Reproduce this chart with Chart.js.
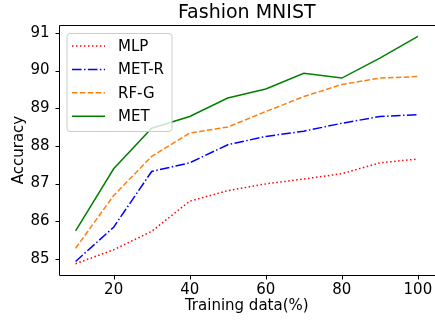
<!DOCTYPE html>
<html>
<head>
<meta charset="utf-8">
<script src="https://cdn.jsdelivr.net/npm/chart.js@4"></script>
<style>
  html, body { margin: 0; padding: 0; background: #fff; overflow: hidden; }
  #wrap { width: 435px; height: 320px; }
</style>
</head>
<body>
<div id="wrap"><canvas id="c" width="435" height="320"></canvas></div>
<script>
const trainingData = [10, 20, 30, 40, 50, 60, 70, 80, 90, 100];
const mlp  = [84.87, 85.24, 85.73, 86.53, 86.81, 86.99, 87.12, 87.26, 87.55, 87.65];
const metR = [84.93, 85.84, 87.32, 87.55, 88.03, 88.25, 88.39, 88.60, 88.78, 88.83];
const rfG  = [85.28, 86.68, 87.72, 88.34, 88.50, 88.91, 89.31, 89.63, 89.80, 89.84];
const met  = [85.74, 87.39, 88.47, 88.78, 89.27, 89.51, 89.93, 89.80, 90.33, 90.91];
const xTicks = [20, 40, 60, 80, 100];
const yTicks = [85, 86, 87, 88, 89, 90, 91];
const chartTitle = 'Fashion MNIST';

const FONT = "'DejaVu Sans', sans-serif";
Chart.defaults.font.family = FONT;
Chart.defaults.color = '#000';

function pts(ys) { return trainingData.map((x, i) => ({ x: x, y: ys[i] })); }

const series = [
  { label: 'MLP',   data: mlp,  color: '#ff0000', dash: [1.5, 2.5] },
  { label: 'MET-R', data: metR, color: '#0000ff', dash: [9.6, 2.4, 1.5, 2.4] },
  { label: 'RF-G',  data: rfG,  color: '#ff7f0e', dash: [5.5, 2.4] },
  { label: 'MET',   data: met,  color: '#008000', dash: [] }
];

const framePlugin = {
  id: 'frame',
  afterDraw(chart) {
    const { ctx, chartArea: a } = chart;
    const xs = chart.scales.x, ys = chart.scales.y;
    ctx.save();
    ctx.strokeStyle = '#000';
    ctx.lineWidth = 1;
    ctx.setLineDash([]);
    const L = Math.round(a.left) + 0.5, T = Math.round(a.top) + 0.5;
    const R = Math.round(a.right) + 0.5, B = Math.round(a.bottom) + 0.5;
    ctx.beginPath();
    ctx.moveTo(R, T);
    ctx.lineTo(L, T);
    ctx.lineTo(L, B);
    ctx.lineTo(R, B);
    // tick marks
    xTicks.forEach(v => {
      const px = Math.round(xs.getPixelForValue(v)) + 0.5;
      ctx.moveTo(px, B);
      ctx.lineTo(px, B + 4);
    });
    yTicks.forEach(v => {
      const py = Math.round(ys.getPixelForValue(v)) + 0.5;
      ctx.moveTo(L, py);
      ctx.lineTo(L - 4, py);
    });
    ctx.stroke();
    ctx.fillStyle = '#000';
    ctx.font = "19px " + FONT;
    ctx.textAlign = 'center';
    ctx.textBaseline = 'middle';
    ctx.fillText(chartTitle, (a.left + a.right) / 2, 13);
    ctx.restore();
  },
  afterDatasetsDraw(chart) {
    const { ctx, chartArea: a } = chart;
    const bx = a.left + 8.5, by = a.top + 8.5, bw = 105, bh = 98, r = 3;
    ctx.save();
    ctx.beginPath();
    ctx.moveTo(bx + r, by);
    ctx.lineTo(bx + bw - r, by);
    ctx.arcTo(bx + bw, by, bx + bw, by + r, r);
    ctx.lineTo(bx + bw, by + bh - r);
    ctx.arcTo(bx + bw, by + bh, bx + bw - r, by + bh, r);
    ctx.lineTo(bx + r, by + bh);
    ctx.arcTo(bx, by + bh, bx, by + bh - r, r);
    ctx.lineTo(bx, by + r);
    ctx.arcTo(bx, by, bx + r, by, r);
    ctx.closePath();
    ctx.fillStyle = 'rgba(255,255,255,0.8)';
    ctx.fill();
    ctx.strokeStyle = '#cccccc';
    ctx.lineWidth = 1;
    ctx.stroke();
    chart.data.datasets.forEach((ds, i) => {
      const y = by + 12.5 + i * 23.4;
      ctx.beginPath();
      ctx.setLineDash(ds.borderDash || []);
      ctx.strokeStyle = ds.borderColor;
      ctx.lineWidth = ds.borderWidth;
      ctx.moveTo(bx + 5, y);
      ctx.lineTo(bx + 38, y);
      ctx.stroke();
      ctx.setLineDash([]);
      ctx.fillStyle = '#000';
      ctx.font = "15px " + FONT;
      ctx.textAlign = 'left';
      ctx.textBaseline = 'middle';
      ctx.fillText(ds.label, bx + 51, y + 1);
    });
    ctx.restore();
  }
};

new Chart(document.getElementById('c'), {
  type: 'line',
  data: {
    datasets: series.map(s => ({
      label: s.label,
      data: pts(s.data),
      borderColor: s.color,
      backgroundColor: s.color,
      borderDash: s.dash,
      borderWidth: 1.5,
      pointRadius: 0,
      tension: 0,
      fill: false
    }))
  },
  options: {
    responsive: false,
    animation: false,
    layout: { padding: { top: 25, left: 0, right: 0, bottom: 0 } },
    plugins: { legend: { display: false }, title: { display: false }, tooltip: { enabled: false } },
    scales: {
      x: {
        type: 'linear',
        min: 5.5, max: 104.5,
        afterBuildTicks: s => { s.ticks = xTicks.map(v => ({ value: v })); },
        afterFit: s => { s.height = 45; s.paddingRight = 0; s.paddingLeft = 0; },
        grid: { display: false, drawTicks: true, tickLength: 4 },
        border: { display: false },
        ticks: { font: { size: 15 }, padding: 2, color: '#000', maxRotation: 0 },
        title: { display: true, text: 'Training data(%)', font: { size: 15 }, padding: { top: 0, bottom: 5 }, color: '#000' }
      },
      y: {
        type: 'linear',
        min: 84.57, max: 91.21,
        afterBuildTicks: s => { s.ticks = yTicks.map(v => ({ value: v })); },
        afterFit: s => { s.width = 58.5; s.paddingTop = 0; s.paddingBottom = 0; },
        grid: { display: false, drawTicks: true, tickLength: 4 },
        border: { display: false },
        ticks: { font: { size: 15 }, padding: 5, color: '#000' },
        title: { display: true, text: 'Accuracy', font: { size: 15 }, padding: { top: 10, bottom: 0 }, color: '#000' }
      }
    }
  },
  plugins: [framePlugin]
});
</script>
</body>
</html>
